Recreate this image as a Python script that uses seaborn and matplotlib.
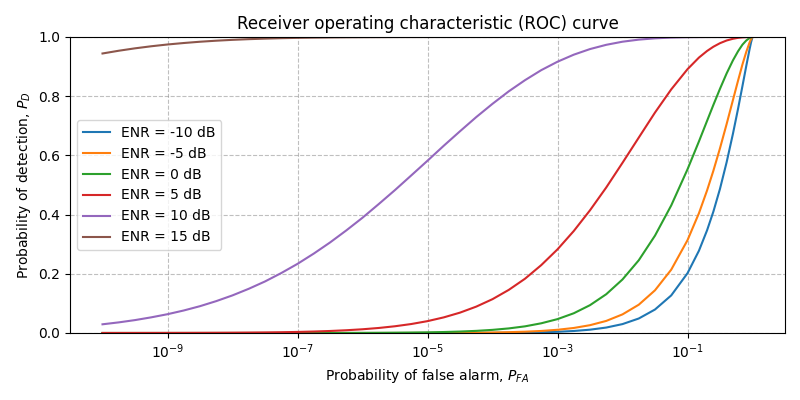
import numpy as np
import pandas as pd
import seaborn as sns
import matplotlib.pyplot as plt
from matplotlib.ticker import NullLocator

# probability of false alarm (x axis)
pfa = [1e-10, 1.78e-10, 3.16e-10, 5.62e-10, 1e-9, 1.78e-9, 3.16e-9, 5.62e-9,
       1e-8, 1.78e-8, 3.16e-8, 5.62e-8, 1e-7, 1.78e-7, 3.16e-7, 5.62e-7,
       1e-6, 1.78e-6, 3.16e-6, 5.62e-6, 1e-5, 1.78e-5, 3.16e-5, 5.62e-5,
       1e-4, 1.78e-4, 3.16e-4, 5.62e-4, 1e-3, 1.78e-3, 3.16e-3, 5.62e-3,
       1e-2, 1.78e-2, 3.16e-2, 5.62e-2, 0.1, 0.15, 0.2, 0.25,
       0.316, 0.4, 0.5, 0.6, 0.7, 0.8, 0.9, 0.95, 1.0]

enr_labels = ['ENR = -10 dB', 'ENR = -5 dB', 'ENR = 0 dB', 'ENR = 5 dB', 'ENR = 10 dB', 'ENR = 15 dB']

# probability of detection
pd_m10 = [0.0] * 20 + [
    0.0001, 0.0001, 0.0002, 0.0003, 0.0005, 0.0009, 0.0015, 0.0025,
    0.0041, 0.0068, 0.0112, 0.0184, 0.0301, 0.0490, 0.0793, 0.1270,
    0.202, 0.278, 0.347, 0.410, 0.487, 0.577, 0.673, 0.758,
    0.834, 0.901, 0.958, 0.982, 1.0]
pd_m5 = [0.0] * 17 + [
    0.0001, 0.0001, 0.0002, 0.0003, 0.0004, 0.0007, 0.0011,
    0.0017, 0.0028, 0.0044, 0.0069, 0.0109, 0.0170, 0.0264, 0.0408,
    0.0629, 0.0956, 0.1442, 0.2140, 0.3135, 0.4048, 0.4817, 0.5481,
    0.624, 0.706, 0.787, 0.853, 0.907, 0.949, 0.981, 0.993, 1.0]
pd_0 = [0.0] * 12 + [
    0.0001, 0.0001, 0.0002, 0.0003,
    0.0004, 0.0006, 0.0010, 0.0015, 0.0022, 0.0033, 0.0049, 0.0072,
    0.0106, 0.0155, 0.0225, 0.0328, 0.0469, 0.0667, 0.0940, 0.1310,
    0.1809, 0.2458, 0.3289, 0.4310, 0.5529, 0.6473, 0.7167, 0.7704,
    0.825, 0.877, 0.921, 0.952, 0.974, 0.988, 0.9965, 0.9989, 1.0]
pd_5 = [0.00006, 0.00009, 0.00012, 0.00018, 0.00025, 0.00035, 0.00049, 0.0007,
        0.00098, 0.0014, 0.0019, 0.0026, 0.0036, 0.0050, 0.0068, 0.0093,
        0.0126, 0.0170, 0.0228, 0.0303, 0.0401, 0.0528, 0.0688, 0.0891,
        0.1143, 0.1457, 0.1833, 0.2293, 0.2826, 0.3446, 0.4145, 0.4916,
        0.5750, 0.6602, 0.7447, 0.8230, 0.8912, 0.9305, 0.9528, 0.9671,
        0.9791, 0.9882, 0.9940, 0.9972, 0.9988, 0.9996, 0.9999, 1.0, 1.0]
pd_10 = [0.0294, 0.0359, 0.0436, 0.0529, 0.0635, 0.0761, 0.0906, 0.1077,
         0.1271, 0.1494, 0.1741, 0.2025, 0.2336, 0.2683, 0.3057, 0.3464,
         0.3894, 0.4357, 0.4829, 0.5323, 0.5820, 0.6327, 0.6815, 0.7294,
         0.7743, 0.8165, 0.8541, 0.8880, 0.9165, 0.9403, 0.9592, 0.9736,
         0.9841, 0.9911, 0.9955, 0.9980, 0.9993, 0.9997, 0.9999] + [1.0] * 10
pd_15 = [0.9443, 0.9536, 0.9617, 0.9687, 0.9747, 0.9797, 0.9840, 0.9875,
         0.9904, 0.9927, 0.9945, 0.9960, 0.9971, 0.9979, 0.9985, 0.9990,
         0.9993, 0.9995, 0.9997, 0.9998, 0.9999] + [1.0] * 28

curves = [pd_m10, pd_m5, pd_0, pd_5, pd_10, pd_15]

frames = []
for label, vals in zip(enr_labels, curves):
    frames.append(pd.DataFrame({'pfa': pfa, 'pd': vals, 'ENR': label}))
df = pd.concat(frames, ignore_index=True)

fig, ax = plt.subplots(figsize=(8, 4), dpi=100)
sns.lineplot(data=df, x='pfa', y='pd', hue='ENR', hue_order=enr_labels,
             palette='tab10', ax=ax, linewidth=1.5, sort=False)

ax.set_xscale('log')
ax.xaxis.set_minor_locator(NullLocator())
ax.set_ylim(0, 1)
ax.grid(True, linestyle='--', color='gray', alpha=0.5)

# Set the plot title and axis labels
ax.set_title('Receiver operating characteristic (ROC) curve')
ax.set_xlabel('Probability of false alarm, $P_{FA}$')
ax.set_ylabel('Probability of detection, $P_D$')
ax.legend(loc='center left', title=None)

fig.subplots_adjust(left=0.0875, right=0.98125, top=0.9075, bottom=0.1675)
fig.savefig('out.png')
